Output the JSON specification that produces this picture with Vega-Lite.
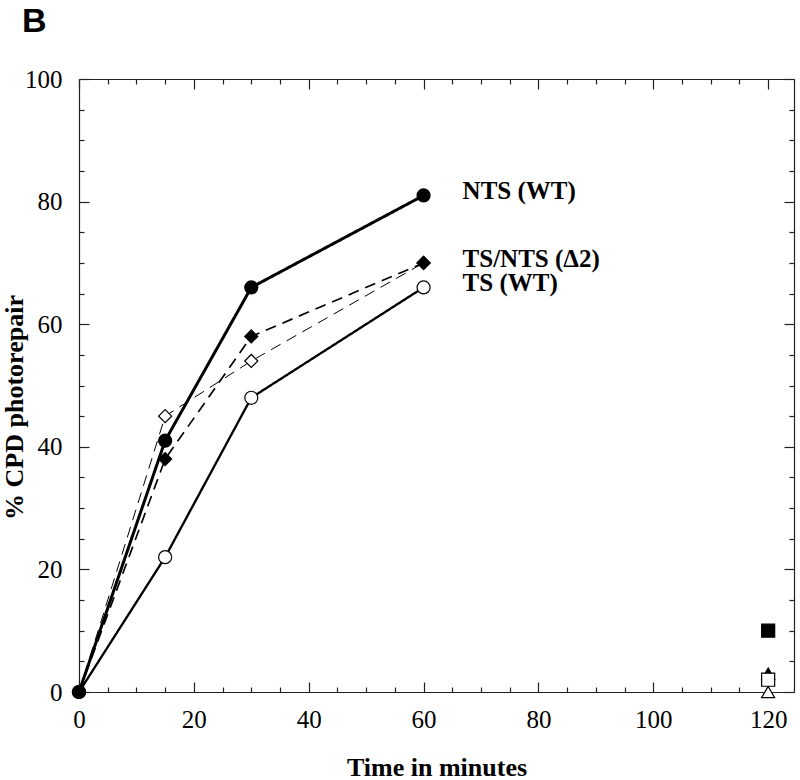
{
  "$schema": "https://vega.github.io/schema/vega-lite/v6.json",
  "width": 715,
  "height": 613,
  "autosize": {"type": "none"},
  "padding": {"left": 79, "top": 79, "right": 6, "bottom": 88},
  "background": "white",
  "title": {"text": "B", "anchor": "start", "frame": "group", "dx": -57, "offset": 1, "baseline": "alphabetic", "font": "Liberation Sans", "fontSize": 34, "fontWeight": "bold", "color": "black"},
  "config": {
    "view": {"stroke": null},
    "axis": {"domainColor": "#222", "tickColor": "#222", "domainWidth": 1.2, "tickWidth": 1.2, "grid": false, "labelFont": "Liberation Serif", "labelFontSize": 25, "labelColor": "black", "titleFont": "Liberation Serif", "titleFontSize": 26, "titleFontWeight": "bold", "titleColor": "black", "labelOverlap": false, "labelFlush": false}
  },
  "datasets": {
    "main": [
      {"series": "TS (Δ2)", "time": 0, "pct": 0},
      {"series": "TS (Δ2)", "time": 15, "pct": 45},
      {"series": "TS (Δ2)", "time": 30, "pct": 54},
      {"series": "TS (Δ2)", "time": 60, "pct": 70},
      {"series": "TS (WT)", "time": 0, "pct": 0},
      {"series": "TS (WT)", "time": 15, "pct": 22},
      {"series": "TS (WT)", "time": 30, "pct": 48},
      {"series": "TS (WT)", "time": 60, "pct": 66},
      {"series": "NTS (Δ2)", "time": 0, "pct": 0},
      {"series": "NTS (Δ2)", "time": 15, "pct": 38},
      {"series": "NTS (Δ2)", "time": 30, "pct": 58},
      {"series": "NTS (Δ2)", "time": 60, "pct": 70},
      {"series": "NTS (WT)", "time": 0, "pct": 0},
      {"series": "NTS (WT)", "time": 15, "pct": 41},
      {"series": "NTS (WT)", "time": 30, "pct": 66},
      {"series": "NTS (WT)", "time": 60, "pct": 81},
      {"series": "Δ2 TS control", "time": 120, "pct": 0},
      {"series": "Δ2 NTS control", "time": 120, "pct": 3},
      {"series": "TS control", "time": 120, "pct": 2},
      {"series": "NTS control", "time": 120, "pct": 10}
    ],
    "labels": [
      {"label": "NTS (WT)", "time": 60, "pct": 81},
      {"label": "TS/NTS (Δ2)", "time": 60, "pct": 70},
      {"label": "TS (WT)", "time": 60, "pct": 66}
    ]
  },
  "layer": [
    {
      "data": {"name": "main"},
      "transform": [{"filter": "datum.time <= 60"}],
      "mark": {"type": "line", "color": "black", "strokeCap": "butt", "clip": false},
      "encoding": {
        "x": {"field": "time", "type": "quantitative", "scale": {"domain": [0, 124.5], "nice": false, "zero": false},
          "axis": {"orient": "bottom", "values": [0,5,10,15,20,25,30,35,40,45,50,55,60,65,70,75,80,85,90,95,100,105,110,115,120],
            "labelExpr": "datum.value % 20 === 0 ? datum.label : ''",
            "tickSize": {"condition": {"test": "datum.value % 20 === 0", "value": -10}, "value": -5},
            "labelPadding": 25, "title": "Time in minutes", "titlePadding": 17}},
        "y": {"field": "pct", "type": "quantitative", "scale": {"domain": [0, 100], "nice": false},
          "axis": {"orient": "left", "values": [0,5,10,15,20,25,30,35,40,45,50,55,60,65,70,75,80,85,90,95,100],
            "labelExpr": "datum.value % 20 === 0 ? datum.label : ''",
            "tickSize": {"condition": {"test": "datum.value % 20 === 0", "value": -10}, "value": -5},
            "labelPadding": 27, "title": "% CPD photorepair", "titleX": -57, "titleY": 328, "titleBaseline": "alphabetic"}},
        "strokeWidth": {"field": "series", "type": "nominal", "scale": {"domain": ["NTS (WT)", "TS (WT)", "NTS (Δ2)", "TS (Δ2)"], "range": [3, 1, 1.1, 1.1]}, "legend": null},
        "strokeDash": {"field": "series", "type": "nominal", "scale": {"domain": ["NTS (WT)", "TS (WT)", "NTS (Δ2)", "TS (Δ2)"], "range": [[1, 0], [1, 0], [11, 7], [11, 7]]}, "legend": null}
      }
    },
    {
      "data": {"name": "main"},
      "mark": {"type": "point", "filled": true, "stroke": "black", "strokeWidth": 1.2, "opacity": 1, "clip": false},
      "encoding": {
        "x": {"field": "time", "type": "quantitative",
          "axis": {"orient": "top", "values": [0,5,10,15,20,25,30,35,40,45,50,55,60,65,70,75,80,85,90,95,100,105,110,115,120],
            "labels": false, "title": null, "ticks": true,
            "tickSize": {"condition": {"test": "datum.value % 20 === 0", "value": -10}, "value": -5}}},
        "y": {"field": "pct", "type": "quantitative",
          "axis": {"orient": "right", "values": [0,5,10,15,20,25,30,35,40,45,50,55,60,65,70,75,80,85,90,95,100],
            "labels": false, "title": null, "ticks": true,
            "tickSize": {"condition": {"test": "datum.value % 20 === 0", "value": -10}, "value": -5}}},
        "shape": {"field": "series", "type": "nominal", "scale": {"domain": ["NTS (WT)", "TS (WT)", "NTS (Δ2)", "TS (Δ2)", "NTS control", "TS control", "Δ2 NTS control", "Δ2 TS control"], "range": ["circle", "circle", "diamond", "diamond", "square", "square", "triangle-up", "triangle-up"]}, "legend": null},
        "fill": {"field": "series", "type": "nominal", "scale": {"domain": ["NTS (WT)", "TS (WT)", "NTS (Δ2)", "TS (Δ2)", "NTS control", "TS control", "Δ2 NTS control", "Δ2 TS control"], "range": ["black", "white", "black", "white", "black", "white", "black", "white"]}, "legend": null},
        "size": {"field": "series", "type": "nominal", "scale": {"domain": ["NTS (WT)", "TS (WT)", "NTS (Δ2)", "TS (Δ2)", "NTS control", "TS control", "Δ2 NTS control", "Δ2 TS control"], "range": [170, 170, 170, 170, 196, 180, 55, 60]}, "legend": null}
      }
    },
    {
      "data": {"name": "labels"},
      "mark": {"type": "text", "align": "left", "baseline": "middle", "dx": 39, "dy": -4, "font": "Liberation Serif", "fontSize": 25, "fontWeight": "bold", "color": "black"},
      "encoding": {
        "x": {"field": "time", "type": "quantitative", "axis": null},
        "y": {"field": "pct", "type": "quantitative", "axis": null},
        "text": {"field": "label"}
      }
    }
  ],
  "resolve": {"axis": {"x": "independent", "y": "independent"}}
}
